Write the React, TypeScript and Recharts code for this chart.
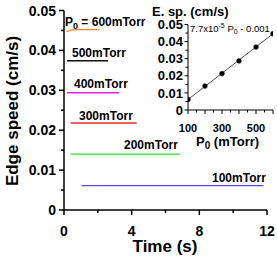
import { LineChart, Line, XAxis, YAxis } from 'recharts';

// main panel: edge speed vs time for each pressure
const timeTicks = [0, 2, 4, 6, 8, 10, 12];
const timeLabels = [0, 4, 8, 12];
const speedTicks = [0, 0.005, 0.01, 0.015, 0.02, 0.025, 0.03, 0.035, 0.04, 0.045, 0.05];
const speedLabels = [0, 0.01, 0.02, 0.03, 0.04, 0.05];

const run600 = [
  { t: 0.15, v: 0.0447 },
  { t: 0.7, v: 0.0452 },
  { t: 2.1, v: 0.0452 },
];
const run500 = [
  { t: 0.18, v: 0.0374 },
  { t: 2.6, v: 0.0374 },
];
const run400 = [
  { t: 0.18, v: 0.0294 },
  { t: 3.25, v: 0.0294 },
];
const run300 = [
  { t: 0.4, v: 0.0218 },
  { t: 4.3, v: 0.0218 },
];
const run200 = [
  { t: 0.4, v: 0.014 },
  { t: 6.85, v: 0.014 },
];
const run100 = [
  { t: 1.05, v: 0.0061 },
  { t: 11.8, v: 0.0061 },
];

// inset: edge speed vs pressure
const pressures = [100, 200, 300, 400, 500, 600];
const edgeSpeeds = [0.0062, 0.014, 0.0213, 0.0287, 0.0368, 0.0446];
const fitEnds = [
  { p: 100, v: 0.0061 },
  { p: 600, v: 0.0446 },
];
const pressureTicks = [100, 150, 200, 250, 300, 350, 400, 450, 500, 550, 600];
const pressureLabels = [100, 300, 500];
const insetSpeedTicks = speedTicks;
const insetSpeedLabels = speedLabels;

const insetData = pressures.map((p, i) => ({ p, v: edgeSpeeds[i] }));

const runs = [
  { data: run600, color: '#f5841f' },
  { data: run500, color: '#111111' },
  { data: run400, color: '#e51fe5' },
  { data: run300, color: '#f02a2a' },
  { data: run200, color: '#2bdc2b' },
  { data: run100, color: '#4b4bef' },
];

const FONT = 'Arial, "Liberation Sans", sans-serif';

const has = (list: number[], v: number) => list.some((t) => Math.abs(t - v) < 1e-9);
const fmtSpeed = (v: number) => (v === 0 ? '0' : v.toFixed(2));

const MainXTick = ({ x, y, payload }: any) => {
  const major = has(timeLabels, payload.value);
  return (
    <g>
      <line x1={x} y1={y} x2={x} y2={y + (major ? 5 : 3)} stroke="#000" strokeWidth={1.5} />
      {major && (
        <text x={x} y={y + 25.5} textAnchor="middle" fontFamily={FONT} fontWeight="bold" fontSize={14} fill="#000">
          {payload.value}
        </text>
      )}
    </g>
  );
};

const MainYTick = ({ x, y, payload }: any) => {
  const major = has(speedLabels, payload.value);
  return (
    <g>
      <line x1={x} y1={y} x2={x - (major ? 5 : 3)} y2={y} stroke="#000" strokeWidth={1.5} />
      {major && (
        <text x={x - 8} y={y + 5} textAnchor="end" fontFamily={FONT} fontWeight="bold" fontSize={14} fill="#000">
          {fmtSpeed(payload.value)}
        </text>
      )}
    </g>
  );
};

const InsetXTick = ({ x, y, payload }: any) => {
  const major = payload.value % 100 === 0;
  const labelled = has(pressureLabels, payload.value);
  return (
    <g>
      <line x1={x} y1={y} x2={x} y2={y + (major ? 4 : 2.5)} stroke="#000" strokeWidth={1} />
      {labelled && (
        <text x={x} y={y + 22} textAnchor="middle" fontFamily={FONT} fontWeight="bold" fontSize={11} fill="#000">
          {payload.value}
        </text>
      )}
    </g>
  );
};

const InsetYTick = ({ x, y, payload }: any) => {
  const major = has(insetSpeedLabels, payload.value);
  return (
    <g>
      <line x1={x} y1={y} x2={x - (major ? 3.5 : 2.5)} y2={y} stroke="#000" strokeWidth={1} />
      {major && (
        <text x={x - 5} y={y + 4.6} textAnchor="end" fontFamily={FONT} fontWeight="bold" fontSize={13} fill="#000">
          {fmtSpeed(payload.value)}
        </text>
      )}
    </g>
  );
};

const lineLabels = [
  { x: 65, y: 26, text: 'P', sub: '0', rest: ' = 600mTorr' },
  { x: 72, y: 57, text: '500mTorr' },
  { x: 74, y: 88, text: '400mTorr' },
  { x: 79, y: 120, text: '300mTorr' },
  { x: 124, y: 149, text: '200mTorr' },
  { x: 212, y: 182, text: '100mTorr' },
];

export default function App() {
  return (
    <div style={{ position: 'absolute', left: 0, top: 0, width: 277, height: 259, background: '#fff' }}>
      <LineChart width={277} height={259} margin={{ top: 10.5, right: 10, bottom: 19, left: 0 }}>
        <XAxis
          type="number"
          dataKey="t"
          domain={[0, 12]}
          ticks={timeTicks}
          interval={0}
          tickSize={0}
          tickMargin={0}
          tick={<MainXTick />}
          height={30}
          stroke="#000"
          strokeWidth={1.5}
          allowDataOverflow
        />
        <YAxis
          type="number"
          domain={[0, 0.05]}
          ticks={speedTicks}
          interval={0}
          tickSize={0}
          tickMargin={0}
          tick={<MainYTick />}
          width={64}
          stroke="#000"
          strokeWidth={1.5}
          allowDataOverflow
        />
        {runs.map((r, i) => (
          <Line
            key={i}
            data={r.data}
            dataKey="v"
            type="monotone"
            stroke={r.color}
            strokeWidth={1.4}
            dot={false}
            isAnimationActive={false}
          />
        ))}
      </LineChart>

      <div style={{ position: 'absolute', left: 140, top: 0 }}>
        <LineChart width={137} height={160} margin={{ top: 24.5, right: 4, bottom: 30, left: 0 }}>
          <XAxis
            type="number"
            dataKey="p"
            domain={[100, 600]}
            ticks={pressureTicks}
            interval={0}
            tickSize={0}
            tickMargin={0}
            tick={<InsetXTick />}
            height={20}
            stroke="#000"
            strokeWidth={1}
            allowDataOverflow
          />
          <YAxis
            type="number"
            domain={[0, 0.05]}
            ticks={insetSpeedTicks}
            interval={0}
            tickSize={0}
            tickMargin={0}
            tick={<InsetYTick />}
            width={48}
            stroke="#000"
            strokeWidth={1}
            allowDataOverflow
          />
          <Line data={fitEnds} dataKey="v" stroke="#222" strokeWidth={0.8} dot={false} isAnimationActive={false} />
          <Line
            data={insetData}
            dataKey="v"
            stroke="none"
            dot={{ r: 2.4, fill: '#000', stroke: '#000', strokeWidth: 0.5 }}
            isAnimationActive={false}
          />
        </LineChart>
      </div>

      <svg
        width={277}
        height={259}
        style={{ position: 'absolute', left: 0, top: 0, pointerEvents: 'none' }}
        fontFamily={FONT}
      >
        <text
          x={12}
          y={111}
          transform="rotate(-90 12 111)"
          textAnchor="middle"
          dy="0.35em"
          fontWeight="bold"
          fontSize={17}
        >
          Edge speed (cm/s)
        </text>
        <text x={165} y={252} textAnchor="middle" fontWeight="bold" fontSize={17}>
          Time (s)
        </text>

        {lineLabels.map((l, i) => (
          <text key={i} x={l.x} y={l.y} fontWeight="bold" fontSize={12}>
            {l.text}
            {l.sub && (
              <tspan dy={3} fontSize={9}>
                {l.sub}
              </tspan>
            )}
            {l.rest && <tspan dy={-3}>{l.rest}</tspan>}
          </text>
        ))}

        <text x={152} y={15.5} fontWeight="bold" fontSize={13}>
          E. sp. (cm/s)
        </text>
        <text x={190} y={32} fontSize={9.5}>
          7.7x10
          <tspan dy={-4} fontSize={7}>
            -5
          </tspan>
          <tspan dy={4}> P</tspan>
          <tspan dy={2} fontSize={7}>
            0
          </tspan>
          <tspan dy={-2}> - 0.001</tspan>
        </text>
        <text x={196} y={146} fontWeight="bold" fontSize={13}>
          P
          <tspan dy={3} fontSize={10}>
            0
          </tspan>
          <tspan dy={-3}> (mTorr)</tspan>
        </text>
      </svg>
    </div>
  );
}
